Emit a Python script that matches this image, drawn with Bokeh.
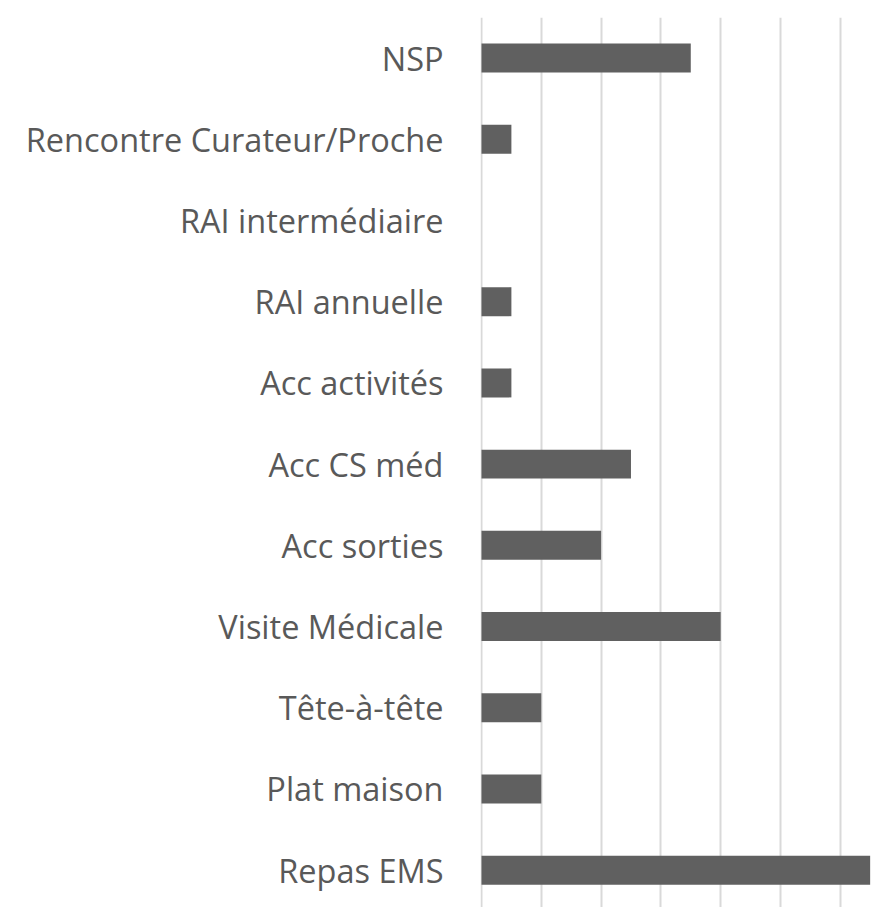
from bokeh.plotting import figure
from bokeh.models import FixedTicker, Range1d, ColumnDataSource
from bokeh.embed import file_html
from bokeh.resources import INLINE

categories = ["Repas EMS", "Plat maison", "Tête-à-tête", "Visite Médicale", "Acc sorties",
              "Acc CS méd", "Acc activités", "RAI annuelle", "RAI intermédiaire",
              "Rencontre Curateur/Proche", "NSP"]
values = [6.5, 1, 1, 4, 2, 2.5, 0.5, 0.5, 0, 0.5, 3.5]
grid_ticks = [0, 1, 2, 3, 4, 5, 6, 7]

positions = list(range(len(categories)))
src = ColumnDataSource(dict(y=positions, v=values, name=categories))

p = figure(width=884, height=907, output_backend="svg", toolbar_location=None,
           x_range=Range1d(-0.0167, 6.74), y_range=Range1d(-0.46, 10.5),
           min_border_left=480, min_border_right=0, min_border_top=17, min_border_bottom=0)

p.hbar(y="y", right="v", left=0, height=0.357, source=src,
       fill_color="#606060", line_color=None)

p.xaxis.visible = False
p.xaxis.ticker = FixedTicker(ticks=grid_ticks)
p.xgrid.ticker = FixedTicker(ticks=grid_ticks)
p.xgrid.grid_line_color = "#d9d9d9"
p.xgrid.grid_line_width = 2
p.ygrid.grid_line_color = None

p.yaxis.ticker = FixedTicker(ticks=positions)
p.yaxis.major_label_overrides = {i: c for i, c in enumerate(categories)}
p.yaxis.axis_line_color = None
p.yaxis.major_tick_line_color = None
p.yaxis.minor_tick_line_color = None
p.yaxis.major_label_text_font = "Open Sans"
p.yaxis.major_label_text_font_size = "32.5px"
p.yaxis.major_label_text_color = "#595959"
p.yaxis.major_label_standoff = 31

p.outline_line_color = None
p.background_fill_color = "white"
p.border_fill_color = "white"

open("out.html", "w").write(file_html(p, INLINE))
